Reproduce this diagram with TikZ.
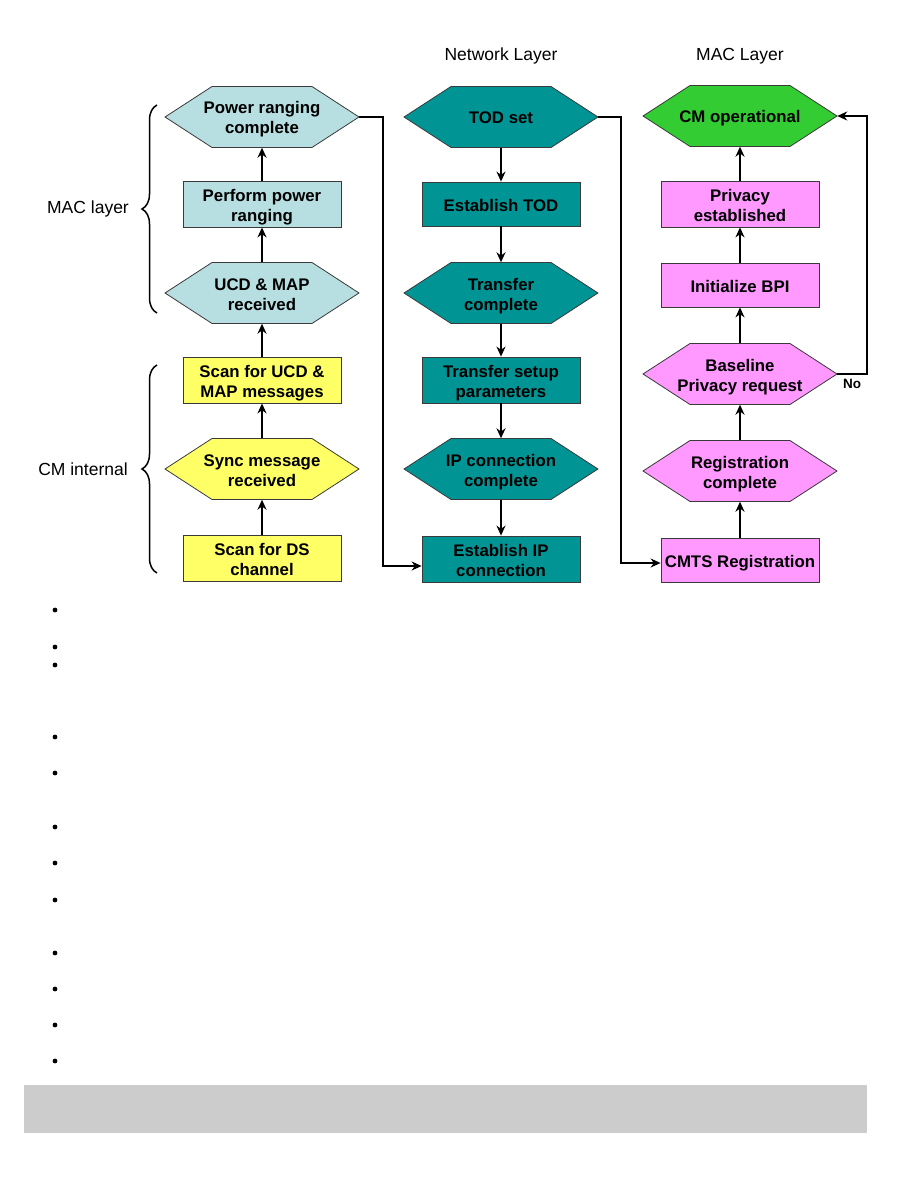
\documentclass[tikz,border=0pt]{standalone}
\usepackage{fontspec}
\setmainfont{Liberation Sans}
\usetikzlibrary{arrows.meta,decorations.pathreplacing}
\definecolor{lblue}{HTML}{B7DEE0}
\definecolor{tealc}{HTML}{009494}
\definecolor{yel}{HTML}{FFFF66}
\definecolor{pinkc}{HTML}{FF99FF}
\definecolor{grn}{HTML}{33CC33}
\definecolor{barc}{HTML}{CCCCCC}
\definecolor{edgec}{HTML}{3A3A3A}
\newcommand{\tx}[1]{\begin{tabular}{@{}c@{}}\rule{0pt}{20pt}#1\end{tabular}}
\tikzset{
  boxfont/.style={font=\bfseries\fontsize{16.8}{20}\selectfont, text=black},
  hexbox/.style={boxfont, minimum width=194pt, minimum height=61pt, inner sep=0pt},
  stepbox/.style={boxfont, draw=edgec, line width=0.8pt, minimum width=158pt, minimum height=44pt, inner sep=0pt},
  conn/.style={line width=1.6pt, -{Stealth[length=10pt,width=9pt]}},
  lbl/.style={font=\fontsize{17.5}{20}\selectfont, text=black},
}
\newcommand{\hexnode}[5]{%
  \filldraw[fill=#4, draw=edgec, line width=0.8pt] ({#2-97},#3) -- ({#2-50},{#3-30.5}) -- ({#2+50},{#3-30.5}) -- ({#2+97},#3) -- ({#2+50},{#3+30.5}) -- ({#2-50},{#3+30.5}) -- cycle;
  \node[hexbox] (#1) at (#2,#3) {\tx{#5}};}
\begin{document}
\begin{tikzpicture}[x=1pt,y=-1pt]
\useasboundingbox (0,0) rectangle (918,1188);
% headers
\node[font=\fontsize{17.5}{20}\selectfont] (hnet) at (501,56) {Network Layer};
\node[font=\fontsize{17.5}{20}\selectfont] (hmac) at (740,56) {MAC Layer};
% column 1
\hexnode{pr}{262}{117}{lblue}{Power ranging\\complete}
\node[stepbox, fill=lblue] (ppr) at (262,204) {\tx{Perform power\\ranging}};
\hexnode{ucd}{262}{293}{lblue}{UCD \& MAP\\received}
\node[stepbox, fill=yel] (sucd) at (262,380) {\tx{Scan for UCD \&\\MAP messages}};
\hexnode{sync}{262}{469}{yel}{Sync message\\received}
\node[stepbox, fill=yel] (sds) at (262,558) {\tx{Scan for DS\\channel}};
% column 2
\hexnode{tod}{501}{117}{tealc}{TOD set}
\node[stepbox, fill=tealc] (etod) at (501,204) {\tx{Establish TOD}};
\hexnode{tc}{501}{293}{tealc}{Transfer\\complete}
\node[stepbox, fill=tealc] (tsp) at (501,380) {\tx{Transfer setup\\parameters}};
\hexnode{ipc}{501}{469}{tealc}{IP connection\\complete}
\node[stepbox, fill=tealc] (eip) at (501,559) {\tx{Establish IP\\connection}};
% column 3
\hexnode{cmop}{740}{116}{grn}{CM operational}
\node[stepbox, fill=pinkc] (pe) at (740,204) {\tx{Privacy\\established}};
\node[stepbox, fill=pinkc] (ibpi) at (740,285) {\tx{Initialize BPI}};
\hexnode{bpr}{740}{374}{pinkc}{Baseline\\Privacy request}
\hexnode{rc}{740}{471}{pinkc}{Registration\\complete}
\node[stepbox, fill=pinkc] (cmts) at (740,560) {\tx{CMTS Registration}};
% column 1 arrows (upward)
\draw[conn] (sds.north) -- (sync.south);
\draw[conn] (sync.north) -- (sucd.south);
\draw[conn] (sucd.north) -- (ucd.south);
\draw[conn] (ucd.north) -- (ppr.south);
\draw[conn] (ppr.north) -- (pr.south);
% column 2 arrows (downward)
\draw[conn] (tod.south) -- (etod.north);
\draw[conn] (etod.south) -- (tc.north);
\draw[conn] (tc.south) -- (tsp.north);
\draw[conn] (tsp.south) -- (ipc.north);
\draw[conn] (ipc.south) -- (eip.north);
% column 3 arrows (upward)
\draw[conn] (cmts.north) -- (rc.south);
\draw[conn] (rc.north) -- (bpr.south);
\draw[conn] (bpr.north) -- (ibpi.south);
\draw[conn] (ibpi.north) -- (pe.south);
\draw[conn] (pe.north) -- (cmop.south);
% cross connectors
\coordinate (j1) at (383,566);
\draw[conn] (pr.east) -| (j1) -- (eip.west |- j1);
\coordinate (j2) at (621,563);
\draw[conn] (tod.east) -| (j2) -- (cmts.west |- j2);
\coordinate (j3) at (867,374);
\draw[conn] (bpr.east) -- (j3) |- (cmop.east);
\node[font=\bfseries\fontsize{13.5}{15}\selectfont] (no) at (852,384) {No};
% braces
\draw[line width=1.5pt, decorate, decoration={brace, amplitude=15pt}] (157,313) -- (157,105);
\node[lbl] (maclayer) at (88,209) {MAC layer};
\draw[line width=1.5pt, decorate, decoration={brace, amplitude=15pt}] (157,573) -- (157,365);
\node[lbl] (cminternal) at (83,469) {CM internal};
% bullets
\foreach \yy in {610,647,665,737,773,827,863,900,953,989,1025,1061}
  \fill (55,\yy) circle (2.4pt);
% grey bar
\fill[barc] (24,1085) rectangle (867,1133);
\end{tikzpicture}
\end{document}
